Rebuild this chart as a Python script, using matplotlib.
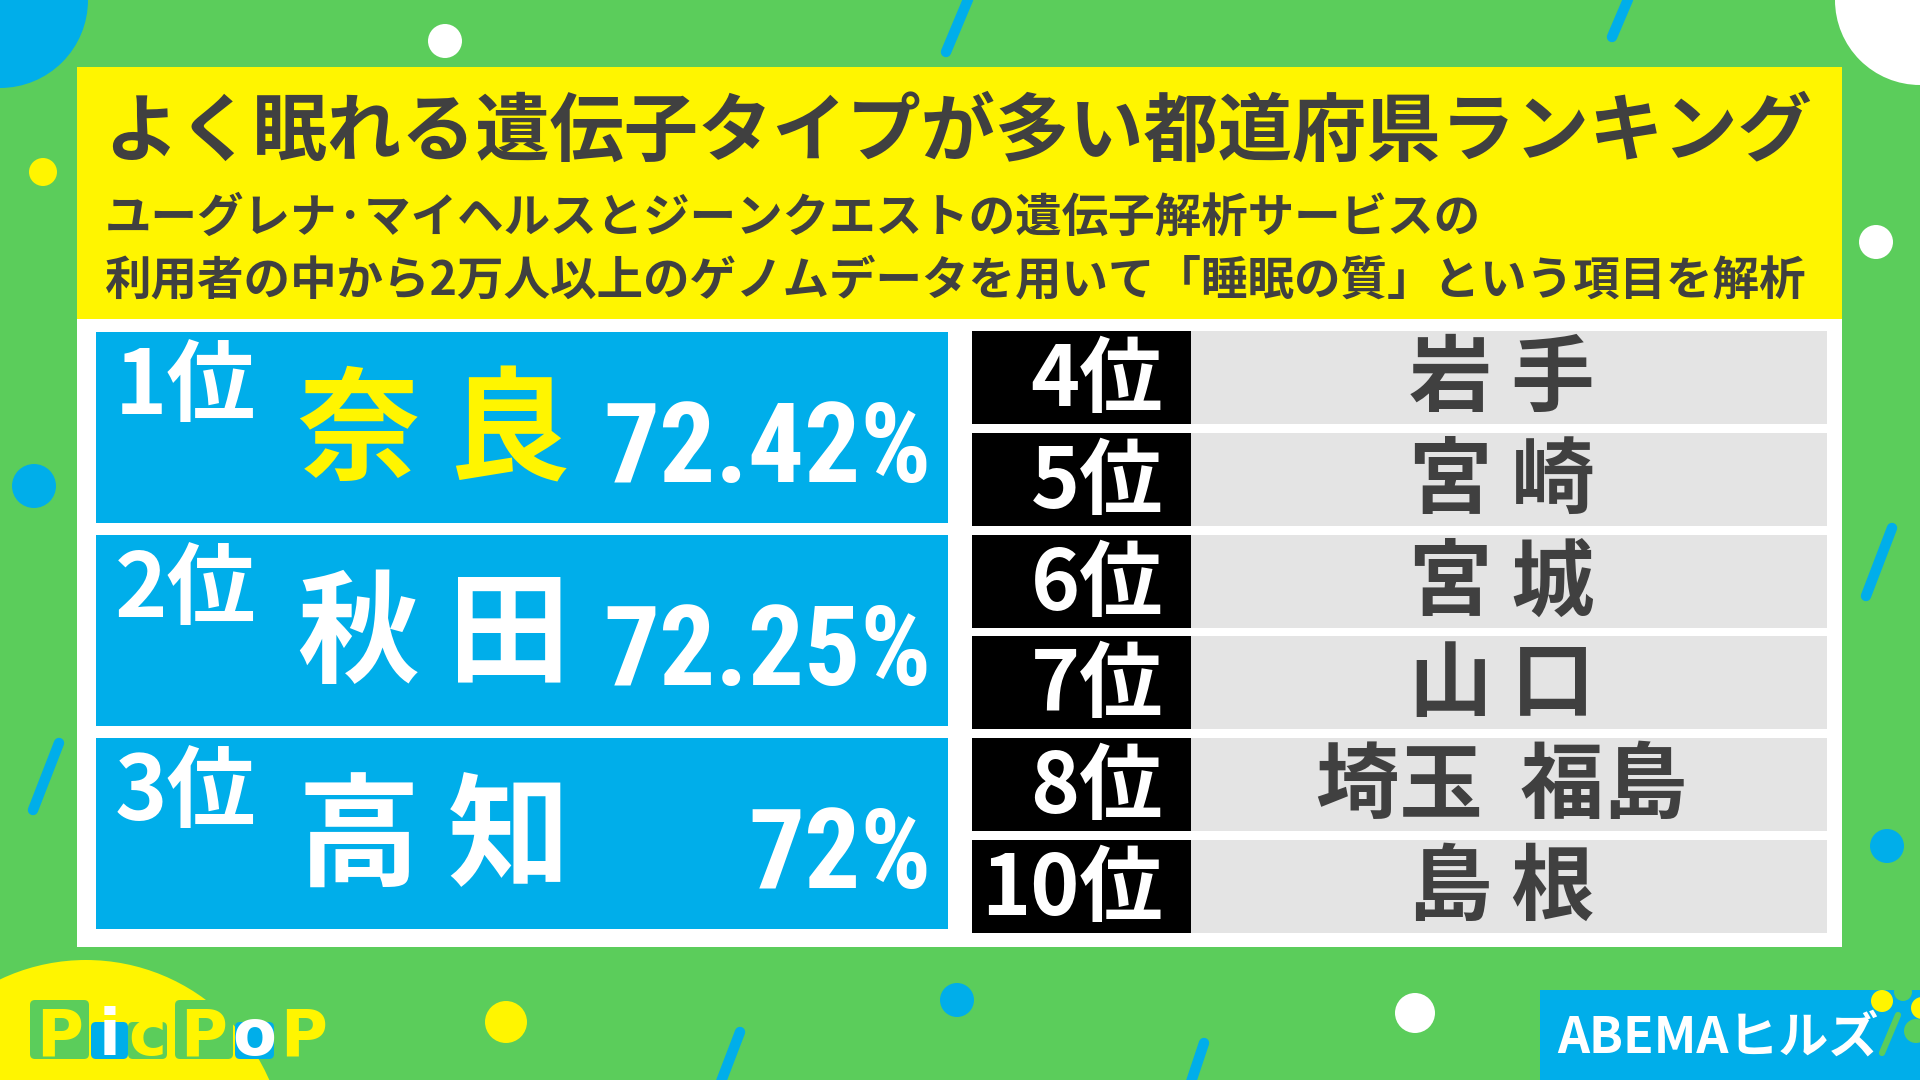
# Sleep-gene prefecture ranking card, rebuilt with matplotlib patches + text.
import matplotlib
matplotlib.use('Agg')
import matplotlib.pyplot as plt
from matplotlib import font_manager
from matplotlib.patches import Circle, Rectangle, FancyBboxPatch

# ---- content ----
title = 'よく眠れる遺伝子タイプが多い都道府県ランキング'
subtitle_lines = ['ユーグレナ·マイヘルスとジーンクエストの遺伝子解析サービスの',
                  '利用者の中から2万人以上のゲノムデータを用いて「睡眠の質」という項目を解析']

top_ranks = ['1位', '2位', '3位']
top_prefs = ['奈 良', '秋 田', '高 知']
top_pcts = [72.42, 72.25, 72]

rest_ranks = ['4位', '5位', '6位', '7位', '8位', '10位']
rest_prefs = ['岩 手', '宮 崎', '宮 城', '山 口', '埼玉  福島', '島 根']

logo_letters = ['P', 'i', 'c', 'P', 'o', 'P']

# colours
GREEN = '#5BCD5B'
YELLOW = '#FFF500'
BLUE = '#00AEEA'
GRAY = '#E4E4E4'
INK = '#404040'

JP = 'Noto Sans CJK JP'
plt.rcParams['font.family'] = [JP, 'DejaVu Sans']

# pick a narrow face for the percentages if one is installed
avail = {f.name for f in font_manager.fontManager.ttflist}
narrow_kw = dict(family=JP)
for cand in ['Roboto Condensed', 'Liberation Sans Narrow']:
    if cand in avail:
        narrow_kw = dict(family=cand)
        break

fig = plt.figure(figsize=(19.2, 10.8), dpi=100)
fig.patch.set_facecolor(GREEN)
ax = fig.add_axes([0, 0, 1, 1])
ax.set_xlim(0, 1920)
ax.set_ylim(1080, 0)
ax.axis('off')
ax.set_facecolor(GREEN)


def dot(x, y, r, c, z=1):
    ax.add_patch(Circle((x, y), r, color=c, zorder=z, lw=0))


def slash(x0, y0, x1, y1, c=BLUE, lw=7.5, z=1):
    ax.plot([x0, x1], [y0, y1], color=c, lw=lw, solid_capstyle='round', zorder=z)


# ---- background decorations ----
dot(0, 0, 88, BLUE)
dot(1920, 0, 85, 'white')
dot(445, 41, 17, 'white')
dot(43, 172, 14, YELLOW)
dot(1876, 242, 17, 'white')
dot(34, 486, 22, BLUE)
dot(1887, 846, 17, BLUE)
dot(86, 1160, 200, YELLOW)
dot(506, 1022, 21, YELLOW)
dot(957, 1000, 17, BLUE)
dot(1415, 1013, 20, 'white')
slash(972, -10, 946, 52)
slash(1632, -10, 1612, 37)
slash(59, 743, 33, 810)
slash(1892, 528, 1866, 596)
slash(740, 1032, 714, 1100)
slash(1204, 1043, 1185, 1100)

# ---- main card ----
ax.add_patch(Rectangle((77, 67), 1765, 880, color='white', zorder=2, lw=0))
ax.add_patch(Rectangle((77, 67), 1765, 252, color=YELLOW, zorder=3, lw=0))

t = ax.text(104, 133, title, fontsize=53.5, fontweight='bold', color=INK,
            ha='left', va='center', zorder=5)
for i, line in enumerate(subtitle_lines):
    ax.text(105, 218 + 62 * i, line, fontsize=33.5, fontweight='bold',
            color=INK, ha='left', va='center', zorder=5)

# top three blue boxes
box_x0, box_x1 = 96, 948
box_h = 191
box_step = 203
pct_texts = []
for i, (rk, pf, pc) in enumerate(zip(top_ranks, top_prefs, top_pcts)):
    top = 332 + box_step * i
    ax.add_patch(Rectangle((box_x0, top), box_x1 - box_x0, box_h,
                           color=BLUE, zorder=3, lw=0))
    ax.text(115, top + 56, rk, fontsize=64, fontweight='bold', color='white',
            ha='left', va='center', zorder=5)
    ax.text(298, top + 103, pf, fontsize=88, fontweight='bold',
            color=YELLOW if i == 0 else 'white',
            ha='left', va='center', zorder=5)
    pct_texts.append(ax.text(932, top + 150, f'{pc:g}%', fontsize=108,
                             fontweight='bold', color='white', ha='right',
                             va='baseline', zorder=5, **narrow_kw))

# shrink the percentages until the widest fits its slot
renderer = fig.canvas.get_renderer()
widest = max(p.get_window_extent(renderer).width for p in pct_texts)
if widest > 328:
    fs = pct_texts[0].get_fontsize() * 328 / widest
    for p in pct_texts:
        p.set_fontsize(fs)
tw = t.get_window_extent(renderer).width
if tw > 1712:
    t.set_fontsize(t.get_fontsize() * 1712 / tw)

# ranks 4-10 table
row_h = 93
row_step = 101.8
for i, (rk, pf) in enumerate(zip(rest_ranks, rest_prefs)):
    top = 331 + row_step * i
    ax.add_patch(Rectangle((972, top), 219, row_h, color='black', zorder=3, lw=0))
    ax.add_patch(Rectangle((1191, top), 636, row_h, color=GRAY, zorder=3, lw=0))
    ax.text(1163, top + row_h / 2 + 4, rk, fontsize=60, fontweight='bold',
            color='white', ha='right', va='center', zorder=5)
    ax.text(1502, top + row_h / 2 + 3, pf, fontsize=60, fontweight='bold',
            color=INK, ha='center', va='center', zorder=5)

# ---- PicPoP logo ----
logo_boxes = [(30, 1000, 59, 59, GREEN), (91, 1022, 37, 37, BLUE),
              (128, 1022, 39, 37, GREEN), (175, 1000, 58, 59, GREEN),
              (235, 1022, 39, 37, BLUE), (283, 1000, 42, 59, None)]
logo_cols = [YELLOW, 'white', YELLOW, YELLOW, 'white', YELLOW]
for (x, y, w, h, bc), ch, lc in zip(logo_boxes, logo_letters, logo_cols):
    if bc:
        ax.add_patch(FancyBboxPatch((x, y), w, h,
                                    boxstyle='round,pad=0,rounding_size=5',
                                    color=bc, zorder=4, lw=0))
    ax.text(x + w / 2, 1055, ch, fontsize=46, fontweight='bold', color=lc,
            ha='center', va='baseline', zorder=5, family='DejaVu Sans')

# ---- ABEMA logo ----
ax.add_patch(Rectangle((1540, 990), 380, 90, color=BLUE, zorder=3, lw=0))
ax.text(1557, 1053, 'ABEMAヒルズ', fontsize=36, fontweight='bold', color='white',
        ha='left', va='baseline', zorder=5)
dot(1882, 1001, 11, YELLOW, 5)
dot(1903, 992, 9, GREEN, 5)
dot(1922, 1008, 11, YELLOW, 5)
dot(1916, 1031, 12, GREEN, 5)
slash(1898, 1015, 1882, 1053, c=GREEN, lw=4.5, z=5)

fig.savefig('out.png', dpi=100, facecolor=GREEN)
